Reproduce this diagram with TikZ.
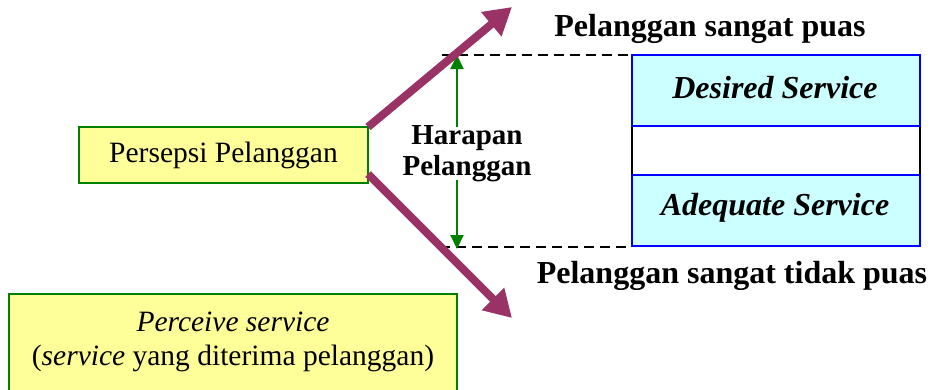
\documentclass[tikz,border=0pt]{standalone}
\usepackage{fontspec}
\setmainfont{Liberation Serif}
\usetikzlibrary{arrows.meta}
\definecolor{yel}{HTML}{FFFF99}
\definecolor{grn}{HTML}{008000}
\definecolor{plum}{HTML}{993366}
\definecolor{cyn}{HTML}{CCFFFF}
\definecolor{blu}{HTML}{0000FF}
\tikzset{
  ybox/.style={draw=grn,fill=yel,line width=1.3pt},
  cbox/.style={draw=blu,fill=cyn,line width=1.3pt},
  big/.style={-{Triangle[length=27pt,width=30pt]},draw=plum,line width=8pt},
  garrow/.style={-{Triangle[length=14pt,width=13pt]},draw=grn,line width=2pt},
  dline/.style={dashed,dash pattern=on 10pt off 6pt,line width=2.4pt},
  txt/.style={font=\fontsize{29.5}{34}\selectfont,inner sep=0pt},
  btxt/.style={txt,font=\fontsize{32}{34}\selectfont\bfseries},
  bitxt/.style={txt,font=\fontsize{32}{34}\selectfont\bfseries\itshape},
}
\begin{document}
\begin{tikzpicture}[x=1pt,y=-1pt]
\useasboundingbox (0,0) rectangle (931,389);
% yellow boxes
\draw[ybox] (79,127) rectangle (368,183);
\node[txt] (pp) at (223.5,155) {Persepsi Pelanggan};
\draw[ybox] (9,294) rectangle (457,400);
\node[txt,align=center] (ps) at (233,342) {\textit{Perceive service}\\(\textit{service} yang diterima pelanggan)};
% right boxes
\draw[line width=1.3pt] (632,126) rectangle (920,175);
\draw[cbox] (632,55) rectangle (920,126);
\draw[cbox] (632,175) rectangle (920,246);
\node[bitxt] (ds) at (775,88) {Desired Service};
\node[bitxt] (as) at (775,208) {Adequate Service};
% dashed lines
\coordinate (t1) at (442,55);
\coordinate (t2) at (632,55);
\coordinate (b1) at (440,247);
\coordinate (b2) at (632,247);
\draw[dline] (t1) -- (t2);
\draw[dline] (b1) -- (b2);
% labels
\node[btxt] (sp) at (710,29) {Pelanggan sangat puas};
\node[btxt] (stp) at (732,276) {Pelanggan sangat tidak puas};
\node[txt,font=\fontsize{29}{31}\selectfont\bfseries,align=center] (hp) at (467,154) {Harapan\\Pelanggan};
% green arrows
\coordinate (g1) at (457,127);
\coordinate (g2) at (457,55);
\coordinate (g3) at (457,180);
\coordinate (g4) at (457,249);
\draw[garrow] (g1) -- (g2);
\draw[garrow] (g3) -- (g4);
% magenta arrows
\coordinate (a0) at (368,127);
\coordinate (a1) at (512,7);
\coordinate (c0) at (368,174);
\coordinate (c1) at (512,318);
\draw[big] (a0) -- (a1);
\draw[big] (c0) -- (c1);
\end{tikzpicture}
\end{document}
